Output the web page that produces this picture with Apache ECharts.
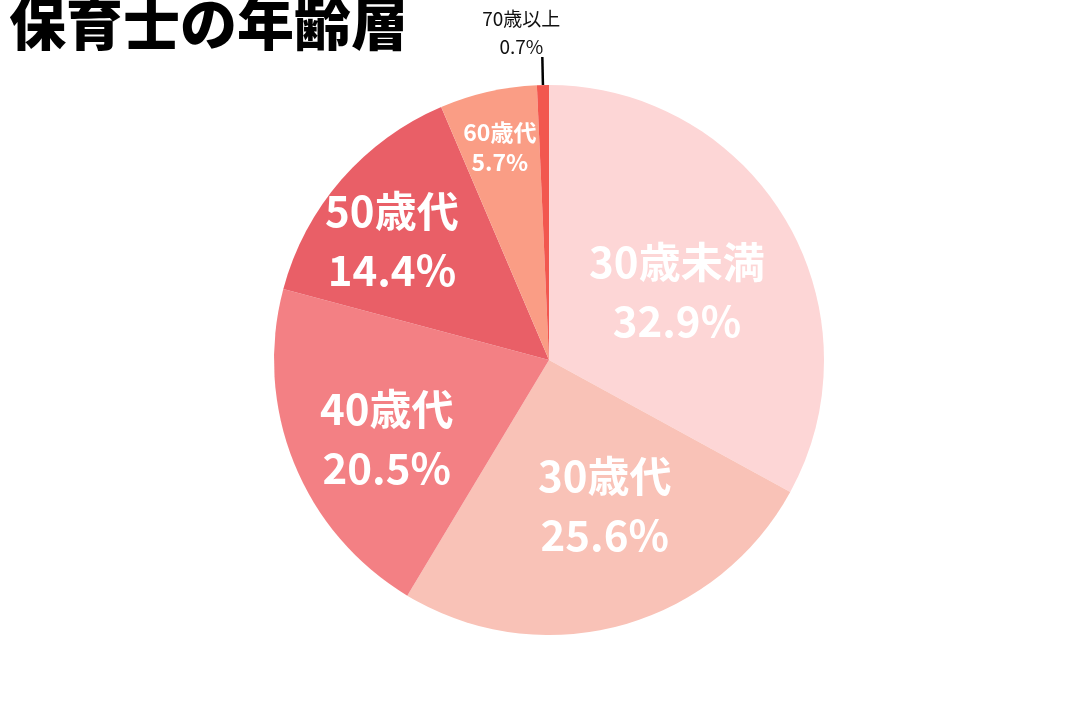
<!DOCTYPE html>
<html>
<head>
<meta charset="utf-8">
<script src="https://cdn.jsdelivr.net/npm/echarts@6/dist/echarts.min.js"></script>
<style>
html,body{margin:0;padding:0;background:#fff;}
#c{width:1080px;height:720px;}
</style>
</head>
<body>
<div id="c"></div>
<script>
const categories = ['30歳未満', '30歳代', '40歳代', '50歳代', '60歳代', '70歳以上'];
const values = [32.9, 25.6, 20.5, 14.4, 5.7, 0.7];
const colors = ['#FDD6D6', '#F9C2B7', '#F38084', '#E95F67', '#FA9D85', '#F2574F'];
const labelShift = [[7, 3], [19, 10], [-32, 26], [-51, -27], [-18, -76], [26, -24]];

const bigLabel = { show: true, position: 'inside', color: '#fff', fontSize: 42, fontWeight: 'bold', lineHeight: 59,
  fontFamily: '"Noto Sans CJK JP", sans-serif', formatter: p => p.name + '\n' + p.value.toFixed(1) + '%' };
const data = categories.map((n, i) => {
  const d = { name: n, value: values[i], itemStyle: { color: colors[i] } };
  if (i === 4) {
    d.label = Object.assign({}, bigLabel, { fontSize: 23, lineHeight: 30 });
  } else if (i === 5) {
    d.label = { show: true, position: 'outside', color: '#111', fontSize: 19, fontWeight: 'normal', lineHeight: 28,
      fontFamily: '"Noto Sans CJK JP", sans-serif',
      formatter: p => '{a|' + p.name + '}\n{a|' + p.value.toFixed(1) + '%}',
      rich: { a: { width: 84, align: 'center', fontSize: 19, lineHeight: 28, color: '#111',
        fontFamily: '"Noto Sans CJK JP", sans-serif' } } };
    d.labelLine = { show: true, length: 28, length2: 0, lineStyle: { color: '#000', width: 2.5 } };
  }
  return d;
});

const chart = echarts.init(document.getElementById('c'));
chart.setOption({
  animation: false,
  title: { text: '保育士の年齢層', left: 4, top: -10,
    textStyle: { fontSize: 57, fontWeight: 900, color: '#000', fontFamily: '"Noto Sans CJK JP", sans-serif' } },
  series: [{
    type: 'pie',
    center: [549, 360],
    radius: 275,
    startAngle: 90,
    clockwise: true,
    avoidLabelOverlap: false,
    label: bigLabel,
    labelLine: { show: false },
    emphasis: { disabled: true },
    labelLayout: p => ({ dx: labelShift[p.dataIndex][0], dy: labelShift[p.dataIndex][1] }),
    data: data
  }]
});
</script>
</body>
</html>
